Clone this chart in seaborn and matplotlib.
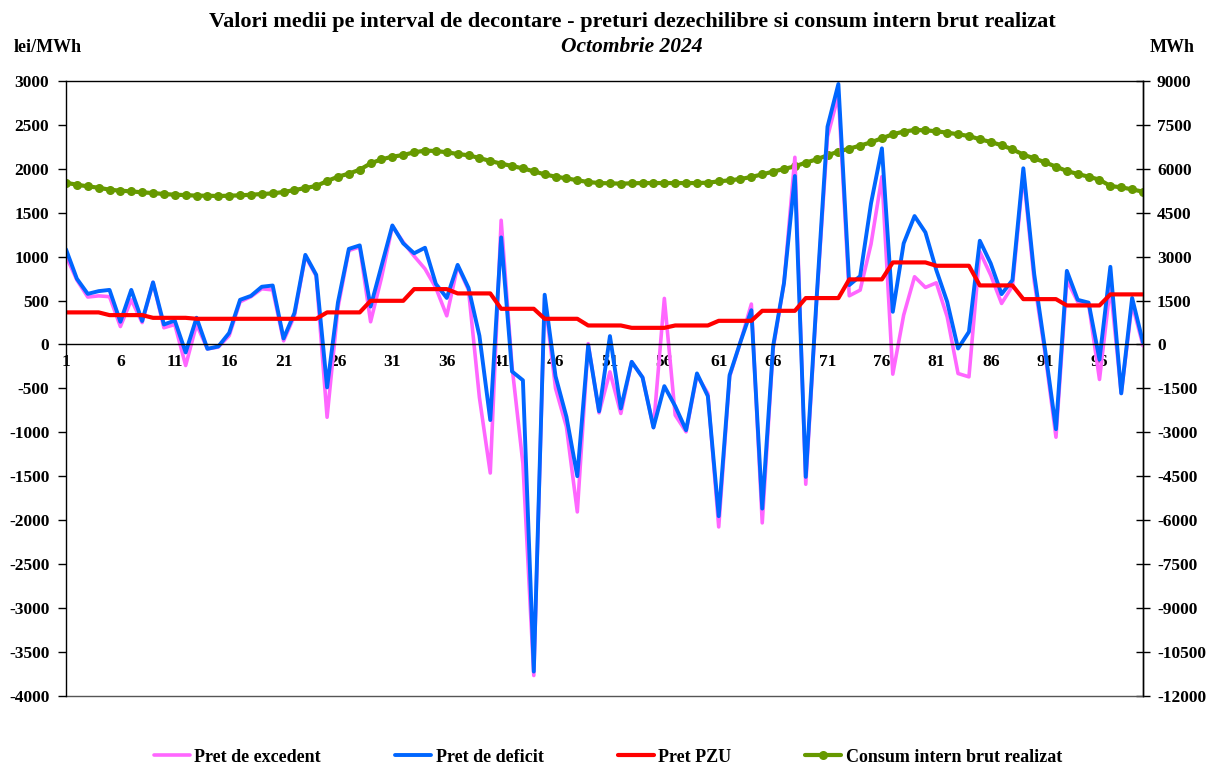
import numpy as np
import pandas as pd
import matplotlib
matplotlib.use("Agg")
import matplotlib.pyplot as plt
import seaborn as sns
from matplotlib.ticker import MultipleLocator, FixedLocator, FixedFormatter

intervals = list(range(1, 101))

pret_excedent = [1006, 734, 540, 553, 544, 204, 508, 249, 707, 190,
                 227, -240, 227, -50, -30, 100, 485, 544, 634, 621,
                 41, 326, 1006, 779, -829, 420, 1070, 1110, 258, 760,
                 1346, 1165, 1006, 861, 644, 326, 893, 621, -603, -1464,
                 1414, -250, -1356, -3770, 530, -500, -938, -1907, 9, -779,
                 -312, -786, -198, -376, -946, 524, -805, -995, -350, -558,
                 -2078, -368, 30, 460, -2032, -50, 700, 2131, -1592, 500,
                 2366, 2841, 554, 619, 1143, 1910, -338, 334, 771, 649,
                 702, 315, -331, -369, 1056, 790, 467, 664, 1949, 720,
                 -104, -1056, 734, 485, 462, -399, 666, -557, 462, -14]

pret_deficit = [1083, 748, 576, 607, 621, 258, 621, 267, 707, 227,
                272, -91, 304, -50, -23, 131, 508, 553, 657, 671,
                68, 358, 1020, 793, -489, 480, 1088, 1128, 431, 893,
                1355, 1151, 1038, 1101, 689, 530, 906, 644, 100, -861,
                1219, -308, -408, -3725, 566, -363, -824, -1500, -10, -761,
                95, -729, -198, -376, -946, -475, -703, -976, -330, -589,
                -1956, -350, 30, 390, -1869, -20, 700, 1918, -1508, 530,
                2480, 2966, 676, 778, 1607, 2233, 372, 1151, 1462, 1276,
                847, 486, -46, 144, 1181, 923, 573, 733, 2006, 800,
                -59, -965, 838, 508, 476, -172, 884, -557, 530, 23]

pret_pzu = [365] * 4 + [334] * 4 + [303] * 4 + [292] * 4 + [292] * 4 + [292] * 4 + \
           [365] * 4 + [497] * 4 + [630] * 4 + [581] * 4 + [406] * 4 + [292] * 4 + \
           [216] * 4 + [189] * 4 + [216] * 4 + [269] * 4 + [383] * 4 + [528] * 4 + \
           [741] * 4 + [934] * 4 + [896] * 4 + [672] * 4 + [516] * 4 + [444] * 4 + [570] * 4

consum_mwh = [5523, 5457, 5400, 5355, 5286, 5253, 5229, 5196, 5172, 5139,
              5115, 5103, 5082, 5082, 5070, 5082, 5094, 5115, 5139, 5160,
              5208, 5274, 5343, 5412, 5583, 5730, 5835, 5970, 6186, 6324,
              6414, 6471, 6564, 6621, 6609, 6564, 6507, 6462, 6369, 6267,
              6177, 6096, 6015, 5913, 5811, 5730, 5676, 5607, 5550, 5514,
              5505, 5493, 5505, 5514, 5514, 5514, 5514, 5514, 5514, 5526,
              5571, 5607, 5652, 5721, 5811, 5904, 5994, 6084, 6210, 6324,
              6462, 6588, 6690, 6792, 6906, 7044, 7179, 7272, 7326, 7317,
              7281, 7236, 7179, 7122, 7008, 6918, 6804, 6666, 6483, 6357,
              6222, 6072, 5925, 5823, 5730, 5628, 5412, 5367, 5298, 5217]

left_ticks = list(range(-4000, 3001, 500))
right_ticks = list(range(-12000, 9001, 1500))
x_major = list(range(1, 97, 5))

title = "Valori medii pe interval de decontare - preturi dezechilibre si consum intern brut realizat"
subtitle = "Octombrie 2024"

df = pd.DataFrame({"interval": intervals, "exc": pret_excedent, "def": pret_deficit,
                   "pzu": pret_pzu, "cons": consum_mwh})

sns.set_style("white")
plt.rcParams["font.family"] = ["Liberation Serif", "DejaVu Serif"]
plt.rcParams["font.weight"] = "bold"
plt.rcParams["text.color"] = "black"
plt.rcParams["xtick.color"] = "black"
plt.rcParams["ytick.color"] = "black"
plt.rcParams["xtick.labelsize"] = 12.5
plt.rcParams["ytick.labelsize"] = 12.5

fig = plt.figure(figsize=(12.11, 7.67), dpi=100)
ax = fig.add_axes([66 / 1211, 1 - 695.7 / 767, (1143 - 66) / 1211, (695.7 - 81) / 767])
ax2 = ax.twinx()

c_exc = "#FF66FF"
c_def = "#0066FF"
c_pzu = "#FF0000"
c_cons = "#669900"

sns.lineplot(data=df, x="interval", y="cons", ax=ax2, color=c_cons, lw=3.0,
             marker="o", markersize=6.5, markeredgewidth=0, label="Consum intern brut realizat",
             legend=False)
sns.lineplot(data=df, x="interval", y="exc", ax=ax, color=c_exc, lw=2.6, label="Pret de excedent", legend=False)
sns.lineplot(data=df, x="interval", y="def", ax=ax, color=c_def, lw=2.8, label="Pret de deficit", legend=False)
sns.lineplot(data=df, x="interval", y="pzu", ax=ax, color=c_pzu, lw=3.0, label="Pret PZU", legend=False)

ax.set_zorder(ax2.get_zorder() + 1)
ax.patch.set_visible(False)

ax.set_xlim(1, 100)
ax.set_ylim(-4000, 3000)
ax2.set_ylim(-12000, 9000)

ax.spines["bottom"].set_position(("data", 0))

ax.yaxis.set_major_locator(FixedLocator(left_ticks))
ax.yaxis.set_major_formatter(FixedFormatter([str(t) for t in left_ticks]))
ax2.yaxis.set_major_locator(FixedLocator(right_ticks))
ax2.yaxis.set_major_formatter(FixedFormatter([str(t) for t in right_ticks]))
ax.xaxis.set_major_locator(FixedLocator(x_major))
ax.xaxis.set_major_formatter(FixedFormatter([str(t) for t in x_major]))
ax.xaxis.set_minor_locator(MultipleLocator(1))

ax.tick_params(axis="x", which="both", direction="out", length=5, width=1, colors="black",
               pad=2, labelsize=12.5)
ax.tick_params(axis="y", direction="out", length=6, width=1, pad=6, labelsize=12.5)
ax2.tick_params(axis="y", direction="inout", length=10, width=1, pad=5, labelsize=12.5)

for sp in ax.spines.values():
    sp.set_color("black")
    sp.set_linewidth(1.0)
for name, sp in ax2.spines.items():
    sp.set_color("black")
    sp.set_linewidth(1.0)
ax2.spines["bottom"].set_color("#555555")
ax2.spines["left"].set_visible(False)
ax2.spines["top"].set_visible(False)

ax.set_xlabel("")
ax.set_ylabel("")
ax2.set_ylabel("")
ax.grid(False)
ax2.grid(False)

fig.text(632 / 1211, 1 - 22 / 767, title, ha="center", va="center", fontsize=16, fontweight="bold")
fig.text(632 / 1211, 1 - 47 / 767, subtitle, ha="center", va="center", fontsize=15.5,
         fontweight="bold", fontstyle="italic")
fig.text(48 / 1211, 1 - 47 / 767, "lei/MWh", ha="center", va="center", fontsize=13, fontweight="bold")
fig.text(1172 / 1211, 1 - 47 / 767, "MWh", ha="center", va="center", fontsize=13, fontweight="bold")

h1, l1 = ax.get_legend_handles_labels()
h2, l2 = ax2.get_legend_handles_labels()
leg = fig.legend(h1 + h2, l1 + l2, loc="center", bbox_to_anchor=(608 / 1211, 1 - 757 / 767),
                 ncol=4, frameon=False, handlelength=2.0, handletextpad=0.25,
                 columnspacing=4.1, prop={"weight": "bold", "size": 13})

fig.savefig("out.png", dpi=100)
